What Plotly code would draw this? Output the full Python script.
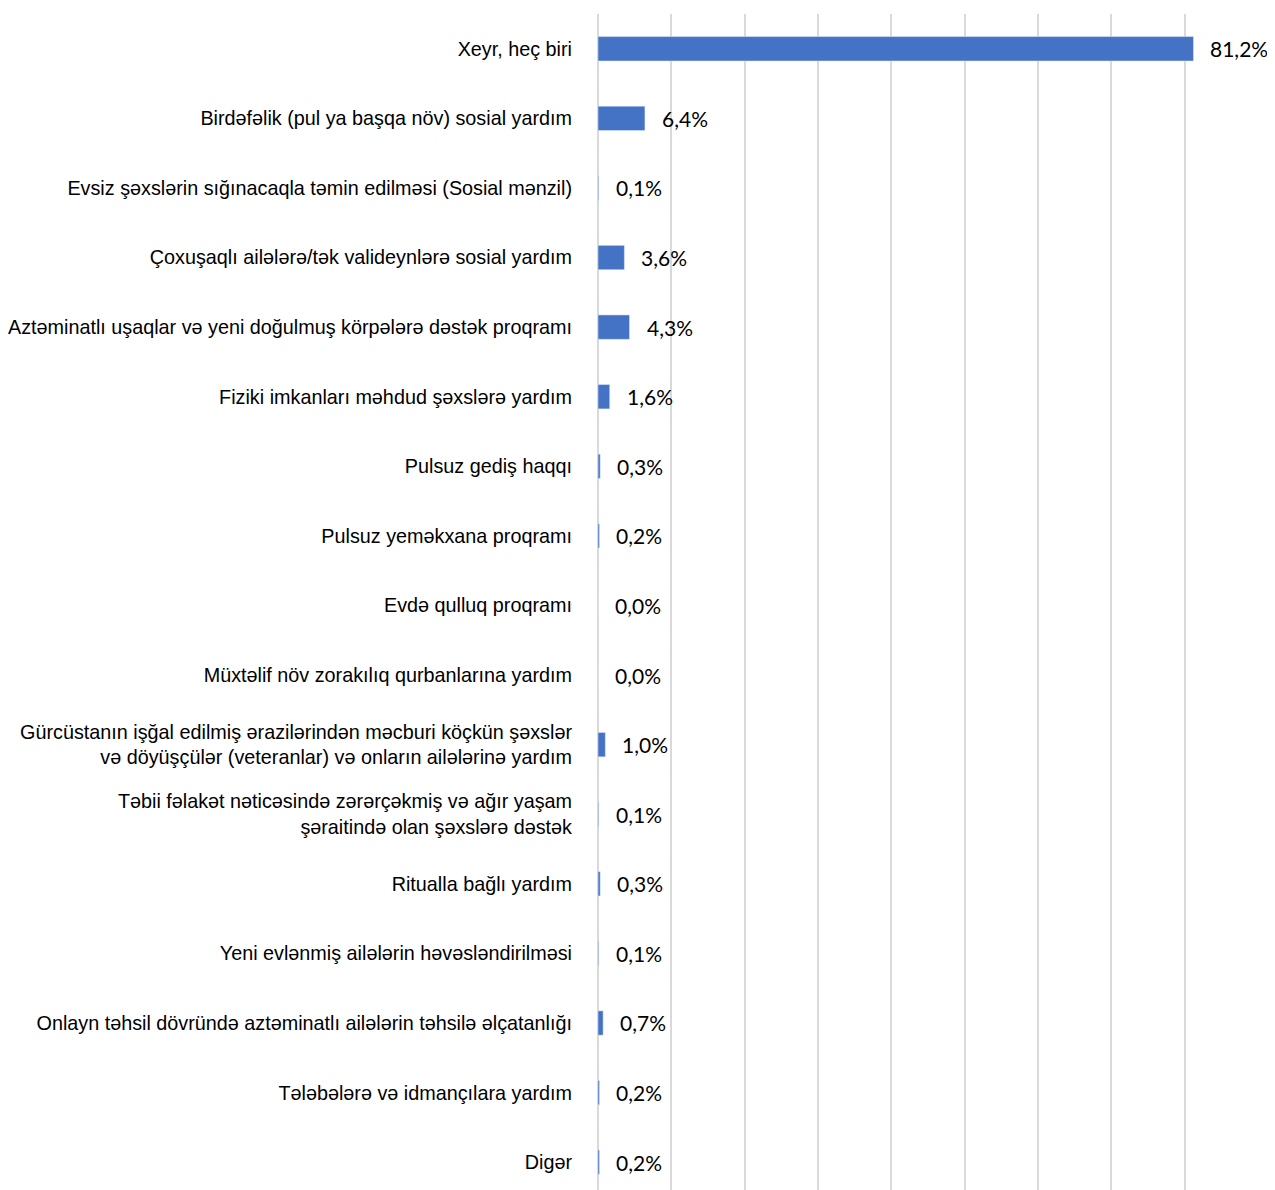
import plotly.graph_objects as go

categories = [
    "Xeyr, heç biri",
    "Birdəfəlik (pul ya başqa növ) sosial yardım",
    "Evsiz şəxslərin sığınacaqla təmin edilməsi (Sosial mənzil)",
    "Çoxuşaqlı ailələrə/tək valideynlərə sosial yardım",
    "Aztəminatlı uşaqlar və yeni doğulmuş körpələrə dəstək proqramı",
    "Fiziki imkanları məhdud şəxslərə yardım",
    "Pulsuz gediş haqqı",
    "Pulsuz yeməkxana proqramı",
    "Evdə qulluq proqramı",
    "Müxtəlif növ zorakılıq qurbanlarına yardım",
    "Gürcüstanın işğal edilmiş ərazilərindən məcburi köçkün şəxslər<br>və döyüşçülər (veteranlar) və onların ailələrinə yardım",
    "Təbii fəlakət nəticəsində zərərçəkmiş və ağır yaşam<br>şəraitində olan şəxslərə dəstək",
    "Ritualla bağlı yardım",
    "Yeni evlənmiş ailələrin həvəsləndirilməsi",
    "Onlayn təhsil dövründə aztəminatlı ailələrin təhsilə əlçatanlığı",
    "Tələbələrə və idmançılara yardım",
    "Digər",
]
values = [81.2, 6.4, 0.1, 3.6, 4.3, 1.6, 0.3, 0.2, 0.0, 0.0, 1.0, 0.1, 0.3, 0.1, 0.7, 0.2, 0.2]
value_labels = [f"{v:.1f}%".replace(".", ",") for v in values]

fig = go.Figure()
fig.add_trace(go.Bar(
    x=values, y=categories, orientation="h",
    marker=dict(color="#4472C4"), width=0.35,
    hoverinfo="skip",
))
for c, v, t in zip(categories, values, value_labels):
    fig.add_annotation(x=v, y=c, text=t, showarrow=False, xanchor="left",
                       xshift=15, font=dict(family="Lato", size=21, color="#000000"))

fig.update_layout(
    width=1267, height=1182,
    margin=dict(l=590, r=17, t=6, b=0),
    plot_bgcolor="white", paper_bgcolor="white",
    showlegend=False,
    xaxis=dict(range=[0, 90], dtick=10, showgrid=True, gridcolor="#D9D9D9", gridwidth=1.5,
               showticklabels=False, zeroline=True, zerolinecolor="#D9D9D9", zerolinewidth=1.5,
               showline=False, fixedrange=True),
    yaxis=dict(type="category", range=[16.4, -0.5], showgrid=False,
               ticks="", ticklabelstandoff=25,
               tickfont=dict(family="Liberation Sans", size=19.8, color="#000000")),
)

fig.write_html("out.html")
